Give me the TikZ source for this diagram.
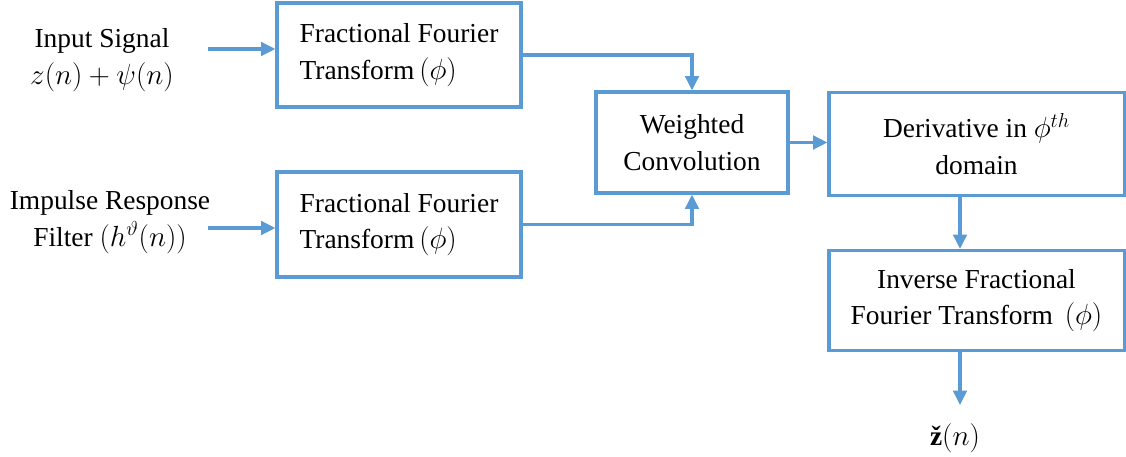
\documentclass[tikz,border=0pt]{standalone}
\usepackage{fontspec}
\setmainfont{Liberation Serif}
\usetikzlibrary{arrows.meta, calc}

\definecolor{lineblue}{HTML}{5B9BD5}

\tikzset{
    blockbox/.style = {draw = lineblue, line width = 2.2pt, inner sep = 0pt, align = center},
    flow/.style = {draw = lineblue, line width = 2.2pt, -{Triangle[length = 0.36cm, width = 0.34cm]}},
}

\begin{document}
\begin{tikzpicture}[x = 0.025cm, y = -0.025cm, font = \fontsize{19.5}{26}\selectfont]
    \useasboundingbox (0, 0) rectangle (1126, 457);

    \node[blockbox, align = left, minimum width = 6.1cm, minimum height = 2.6cm] (frft1) at (399, 55)
        {Fractional Fourier\\Transform$\,(\phi)$};
    \node[blockbox, align = left, minimum width = 6.1cm, minimum height = 2.625cm] (frft2) at (399, 224.5)
        {Fractional Fourier\\Transform$\,(\phi)$};
    \node[blockbox, minimum width = 4.8cm, minimum height = 2.525cm] (conv) at (692, 142.5)
        {Weighted\\Convolution};
    \node[blockbox, minimum width = 7.375cm, minimum height = 2.575cm] (deriv) at (976.5, 144)
        {Derivative in $\phi^{th}$\\domain};
    \node[blockbox, minimum width = 7.375cm, minimum height = 2.5cm] (ifrft) at (976.5, 300.5)
        {Inverse Fractional\\Fourier Transform $\,(\phi)$};

    \node[align = center] (insig) at (102, 60) {Input Signal\\$z(n) + \psi(n)$};
    \node[align = center] (impulse) at (110, 222) {Impulse Response\\Filter $\big(h^{\vartheta}(n)\big)$};
    \node (zout) at (955, 438) {\textbf{ž}$(n)$};

    \coordinate (inA) at (208, 49);
    \coordinate (imA) at (208, 228);
    \coordinate (down) at (960, 0);
    \coordinate (outtip) at (960, 405);

    \draw[flow] (inA) -- (inA -| frft1.west);
    \draw[flow] (imA) -- (imA -| frft2.west);
    \draw[flow] (frft1.east) -| (conv.north);
    \draw[flow] (frft2.east) -| (conv.south);
    \draw[flow] (conv.east) -- (conv.east -| deriv.west);
    \draw[flow] (down |- deriv.south) -- (down |- ifrft.north);
    \draw[flow] (down |- ifrft.south) -- (outtip);
\end{tikzpicture}
\end{document}
